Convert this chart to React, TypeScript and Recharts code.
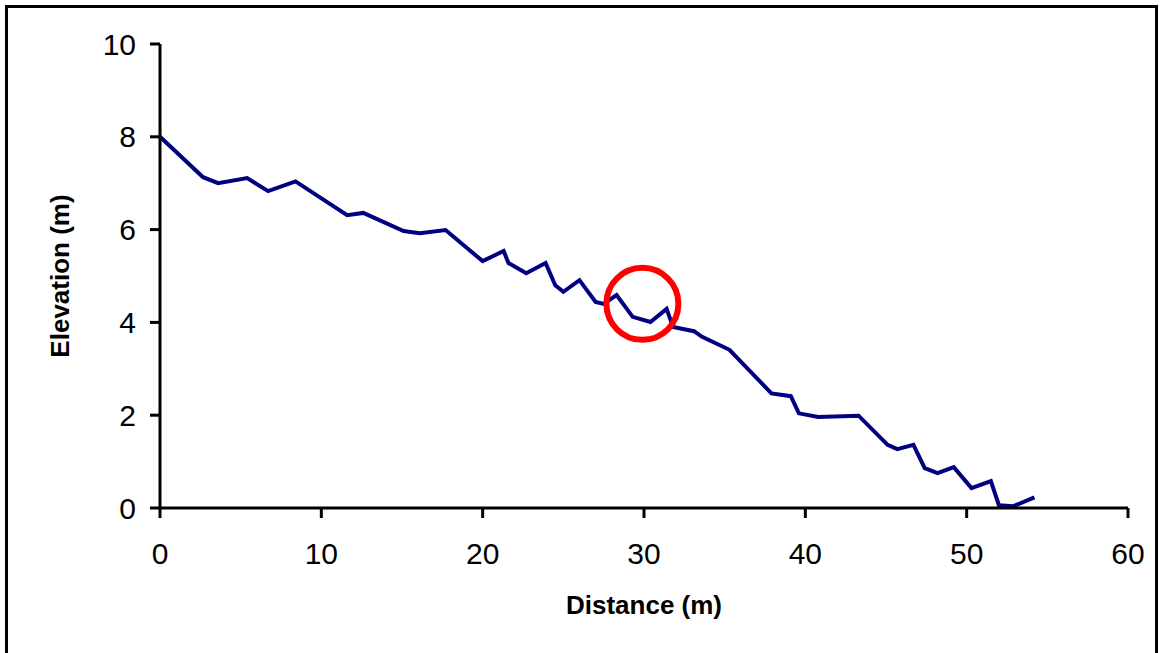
import React from "react";
import {
  LineChart,
  Line,
  XAxis,
  YAxis,
  Label,
  ReferenceDot
} from "recharts";

// profile
const distance: number[] = [
  0, 2.67, 3.6, 5.4, 6.7, 8.4, 11.6, 12.6, 15.1, 16.1, 17.7, 20.0, 21.3, 21.6,
  22.7, 23.9, 24.5, 25.0, 26.0, 27.0, 27.5, 28.3, 29.3, 30.4, 31.4, 31.8, 33.1,
  33.6, 35.3, 37.9, 39.1, 39.6, 40.8, 43.3, 45.1, 45.7, 46.7, 47.4, 48.2, 49.2,
  50.3, 51.5, 52.0, 52.9, 54.2
];

const elevation: number[] = [
  8.0, 7.13, 7.0, 7.11, 6.83, 7.04, 6.31, 6.36, 5.97, 5.92, 5.99, 5.32, 5.54,
  5.28, 5.06, 5.28, 4.8, 4.66, 4.91, 4.44, 4.4, 4.59, 4.12, 4.01, 4.29, 3.9,
  3.81, 3.69, 3.41, 2.47, 2.41, 2.04, 1.96, 1.99, 1.36, 1.27, 1.36, 0.86, 0.75,
  0.88, 0.43, 0.58, 0.06, 0.04, 0.23
];

const xTicks: number[] = [0, 10, 20, 30, 40, 50, 60];
const yTicks: number[] = [0, 2, 4, 6, 8, 10];

// highlighted spot
const markerX = 29.9;
const markerY = 4.4;

const data = distance.map((d, i) => ({ distance: d, elevation: elevation[i] }));

const font = "'Liberation Sans', Arial, sans-serif";

const App: React.FC = () => {
  return (
    <div
      style={{
        position: "absolute",
        left: 0,
        top: 0,
        width: 1163,
        height: 653,
        background: "#fff",
        overflow: "hidden",
        fontFamily: font
      }}
    >
      <div
        style={{
          position: "absolute",
          left: 5,
          top: 5,
          width: 1153,
          height: 700,
          border: "3px solid #000",
          boxSizing: "border-box"
        }}
      />
      <div style={{ position: "absolute", left: 0, top: 0 }}>
        <LineChart
          width={1163}
          height={653}
          data={data}
          margin={{ top: 44, right: 35, left: 0, bottom: 0 }}
        >
          <XAxis
            dataKey="distance"
            type="number"
            domain={[0, 60]}
            ticks={xTicks}
            height={145}
            tickSize={10}
            tickMargin={25}
            axisLine={{ stroke: "#000", strokeWidth: 3 }}
            tickLine={{ stroke: "#000", strokeWidth: 3 }}
            tick={{ fill: "#000", fontSize: 30, fontFamily: font }}
          >
            <Label
              value="Distance (m)"
              position="center"
              dy={24}
              style={{ fontSize: 26, fontWeight: "bold", fill: "#000", fontFamily: font }}
            />
          </XAxis>
          <YAxis
            type="number"
            domain={[0, 10]}
            ticks={yTicks}
            width={160}
            tickSize={10}
            tickMargin={14}
            axisLine={{ stroke: "#000", strokeWidth: 3 }}
            tickLine={{ stroke: "#000", strokeWidth: 3 }}
            tick={{ fill: "#000", fontSize: 30, fontFamily: font }}
          >
            <Label
              value="Elevation (m)"
              position="center"
              angle={-90}
              dx={-20}
              style={{ fontSize: 26, fontWeight: "bold", fill: "#000", fontFamily: font }}
            />
          </YAxis>
          <Line
            type="linear"
            dataKey="elevation"
            stroke="#000080"
            strokeWidth={4}
            dot={false}
            activeDot={false}
            isAnimationActive={false}
          />
          <ReferenceDot
            x={markerX}
            y={markerY}
            r={36}
            fill="none"
            stroke="#ff0000"
            strokeWidth={6}
          />
        </LineChart>
      </div>
    </div>
  );
};

export default App;
